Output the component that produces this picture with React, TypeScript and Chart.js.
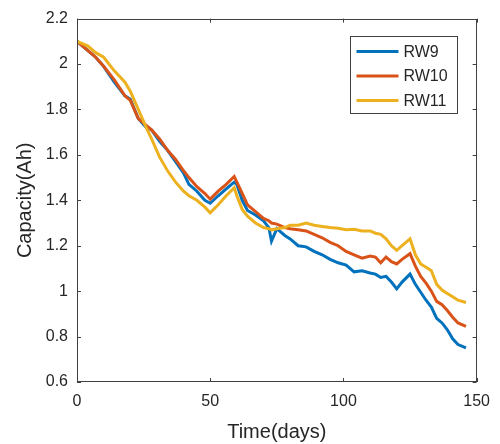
import React, { useEffect, useRef } from "react";
import { Chart, registerables } from "chart.js";

Chart.register(...registerables);

const days = [0, 4, 7, 10, 14, 18, 20, 23, 26, 28, 31, 34, 37, 40, 42, 45, 48, 50, 53, 56, 59, 60, 62, 64, 67, 70, 72, 73, 75, 78, 80, 83, 86, 89, 92, 95, 98, 101, 104, 107, 110, 112, 114, 116, 118, 120, 122, 125, 127, 129, 131, 133, 135, 137, 139, 141, 143, 146];

const rw9 = [2.10, 2.06, 2.03, 1.99, 1.92, 1.86, 1.845, 1.76, 1.72, 1.71, 1.66, 1.62, 1.57, 1.52, 1.47, 1.44, 1.40, 1.387, 1.42, 1.45, 1.48, 1.47, 1.40, 1.355, 1.335, 1.31, 1.28, 1.22, 1.275, 1.245, 1.23, 1.20, 1.195, 1.175, 1.16, 1.14, 1.125, 1.115, 1.085, 1.09, 1.08, 1.075, 1.06, 1.065, 1.04, 1.01, 1.04, 1.075, 1.03, 0.995, 0.96, 0.93, 0.88, 0.86, 0.83, 0.79, 0.765, 0.75];

const rw10 = [2.10, 2.06, 2.03, 1.99, 1.93, 1.86, 1.84, 1.76, 1.73, 1.71, 1.67, 1.62, 1.58, 1.53, 1.50, 1.46, 1.43, 1.405, 1.44, 1.47, 1.505, 1.48, 1.43, 1.38, 1.35, 1.32, 1.31, 1.30, 1.295, 1.28, 1.275, 1.27, 1.265, 1.25, 1.235, 1.215, 1.20, 1.175, 1.16, 1.145, 1.155, 1.15, 1.125, 1.15, 1.13, 1.12, 1.14, 1.165, 1.11, 1.065, 1.035, 1.00, 0.955, 0.94, 0.915, 0.885, 0.86, 0.845];

const rw11 = [2.10, 2.08, 2.05, 2.03, 1.97, 1.92, 1.88, 1.80, 1.72, 1.67, 1.59, 1.53, 1.48, 1.44, 1.42, 1.40, 1.37, 1.345, 1.38, 1.42, 1.455, 1.42, 1.36, 1.33, 1.30, 1.28, 1.275, 1.27, 1.275, 1.28, 1.29, 1.29, 1.30, 1.29, 1.285, 1.28, 1.277, 1.27, 1.272, 1.265, 1.265, 1.255, 1.25, 1.23, 1.20, 1.18, 1.20, 1.23, 1.16, 1.12, 1.105, 1.09, 1.03, 1.005, 0.99, 0.975, 0.96, 0.95];

const seriesLabels = ["RW9", "RW10", "RW11"];
const seriesValues = [rw9, rw10, rw11];
const seriesColors = ["#0072BD", "#D95319", "#EDB120"];

const xMin = 0;
const xMax = 150;
const xStep = 50;
const yMin = 0.6;
const yMax = 2.2;
const yStep = 0.2;

const xTitle = "Time(days)";
const yTitle = "Capacity(Ah)";

const FONT = '"Liberation Sans", Arial, Helvetica, sans-serif';
const AXIS_COLOR = "#262626";

const matlabBox = {
  id: "matlabBox",
  afterDatasetsDraw(chart: any) {
    const { ctx, chartArea: a, scales } = chart;
    const xs = scales.x;
    const ys = scales.y;
    ctx.save();
    ctx.strokeStyle = "#404040";
    ctx.lineWidth = 1;
    ctx.strokeRect(Math.round(a.left) + 0.5, Math.round(a.top) + 0.5, Math.round(a.right - a.left) - 1, Math.round(a.bottom - a.top) - 1);
    const tl = 4;
    ctx.beginPath();
    xs.ticks.forEach((t: any) => {
      const px = Math.round(xs.getPixelForValue(t.value)) + 0.5;
      ctx.moveTo(px, a.bottom);
      ctx.lineTo(px, a.bottom - tl);
      ctx.moveTo(px, a.top);
      ctx.lineTo(px, a.top + tl);
    });
    ys.ticks.forEach((t: any) => {
      const py = Math.round(ys.getPixelForValue(t.value)) + 0.5;
      ctx.moveTo(a.left, py);
      ctx.lineTo(a.left + tl, py);
      ctx.moveTo(a.right, py);
      ctx.lineTo(a.right - tl, py);
    });
    ctx.stroke();

    // legend
    const bw = 107;
    const bh = 77;
    const bx = Math.round(a.right - 20 - bw) + 0.5;
    const by = Math.round(a.top + 17) + 0.5;
    ctx.fillStyle = "#ffffff";
    ctx.fillRect(bx, by, bw, bh);
    ctx.strokeStyle = "#404040";
    ctx.lineWidth = 1;
    ctx.strokeRect(bx, by, bw, bh);
    ctx.font = `16px ${FONT}`;
    ctx.textBaseline = "middle";
    ctx.textAlign = "left";
    chart.data.datasets.forEach((ds: any, i: number) => {
      const ry = by + 15 + i * 24.5;
      ctx.strokeStyle = ds.borderColor;
      ctx.lineWidth = 3;
      ctx.beginPath();
      ctx.moveTo(bx + 6, ry);
      ctx.lineTo(bx + 48, ry);
      ctx.stroke();
      ctx.fillStyle = AXIS_COLOR;
      ctx.fillText(ds.label, bx + 53, ry + 1);
    });
    ctx.restore();
  },
};

export default function App() {
  const canvasRef = useRef<HTMLCanvasElement | null>(null);

  useEffect(() => {
    document.body.style.margin = "0";
    const canvas = canvasRef.current;
    if (!canvas) return;
    const chart = new Chart(canvas, {
      type: "line",
      data: {
        datasets: seriesLabels.map((label, i) => ({
          label,
          data: days.map((d, j) => ({ x: d, y: seriesValues[i][j] })),
          borderColor: seriesColors[i],
          backgroundColor: seriesColors[i],
          borderWidth: 3,
          pointRadius: 0,
          tension: 0,
          fill: false,
          order: seriesLabels.length - 1 - i,
        })),
      },
      options: {
        responsive: false,
        animation: false,
        maintainAspectRatio: false,
        layout: { padding: { left: 0, right: 21, top: 16, bottom: 0 } },
        plugins: {
          legend: { display: false },
          tooltip: { enabled: false },
        },
        scales: {
          x: {
            type: "linear",
            min: xMin,
            max: xMax,
            afterFit: (s: any) => {
              s.height = 62;
            },
            ticks: {
              stepSize: xStep,
              color: AXIS_COLOR,
              font: { family: FONT, size: 16 },
              padding: 10,
              maxRotation: 0,
            },
            grid: { drawOnChartArea: false, drawTicks: false },
            border: { display: false },
            title: {
              display: true,
              text: xTitle,
              color: AXIS_COLOR,
              font: { family: FONT, size: 20 },
              padding: { top: 0, bottom: 0 },
            },
          },
          y: {
            type: "linear",
            min: yMin,
            max: yMax,
            afterFit: (s: any) => {
              s.width = 77;
            },
            ticks: {
              stepSize: yStep,
              color: AXIS_COLOR,
              font: { family: FONT, size: 16 },
              padding: 9,
              callback: (v: any) => String(Number(Number(v).toFixed(1))),
            },
            grid: { drawOnChartArea: false, drawTicks: false },
            border: { display: false },
            title: {
              display: true,
              text: yTitle,
              color: AXIS_COLOR,
              font: { family: FONT, size: 20 },
              padding: { top: 13, bottom: 0 },
            },
          },
        },
      },
      plugins: [matlabBox],
    });
    return () => chart.destroy();
  }, []);

  return (
    <div style={{ position: "fixed", left: 0, top: 0, width: 500, height: 444, background: "#fff" }}>
      <canvas ref={canvasRef} width={500} height={444} style={{ width: 500, height: 444, display: "block" }} />
    </div>
  );
}
